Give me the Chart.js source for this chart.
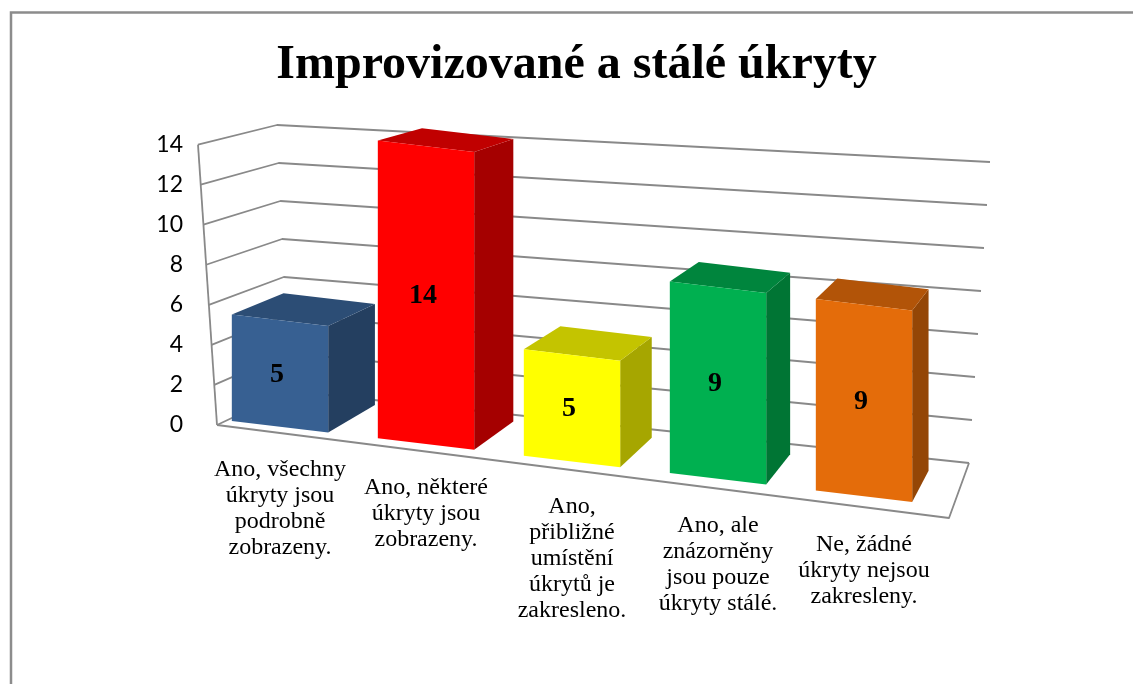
<!DOCTYPE html>
<html>
<head>
<meta charset="utf-8">
<script src="https://cdn.jsdelivr.net/npm/chart.js@4.4.1/dist/chart.umd.min.js"></script>
<style>
  html, body { margin: 0; padding: 0; background: #ffffff; overflow: hidden; }
  canvas { display: block; }
</style>
</head>
<body>
<canvas id="c" width="1133" height="684"></canvas>
<script>
// ---- data ----
const categories = [
  ['Ano, všechny', 'úkryty jsou', 'podrobně', 'zobrazeny.'],
  ['Ano, některé', 'úkryty jsou', 'zobrazeny.'],
  ['Ano,', 'přibližné', 'umístění', 'úkrytů je', 'zakresleno.'],
  ['Ano, ale', 'znázorněny', 'jsou pouze', 'úkryty stálé.'],
  ['Ne, žádné', 'úkryty nejsou', 'zakresleny.']
];
const values = [5, 14, 5, 9, 9];
const titleText = 'Improvizované a stálé úkryty';
const yMin = 0, yMax = 14, yStep = 2;

// ---- styles ----
const frontColors = ['#376092', '#FF0000', '#FFFF00', '#00B050', '#E46C0A'];
const topColors   = ['#2C4D75', '#C00000', '#C4C400', '#00853D', '#B25408'];
const sideColors  = ['#243F60', '#A50000', '#A6A600', '#007534', '#944606'];
const gridColor = '#898989';

// ---- 3D look geometry ----
const K = 0.119;          // floor slope of the front plane
const S = 1.062;          // vertical stretch of the front plane
const VP = {x: 1227, y: -96}; // vanishing point
const BAR_DEPTH = 0.052;
const wallFL0 = {x: 217, y: 425}, wallFL1 = {x: 198, y: 145};
const wallBL0 = {x: 289, y: 391}, wallBL1 = {x: 277, y: 125};
const wallBR0 = {x: 969, y: 463}, wallBR1 = {x: 990, y: 162};
const floorFR = {x: 949, y: 518};

function lerp(a, b, t) { return {x: a.x + (b.x - a.x) * t, y: a.y + (b.y - a.y) * t}; }

const persp = {
  id: 'persp',
  _F(chart) {
    const yb = chart.scales.y.getPixelForValue(0);
    return 461.4 - K * 572 - S * yb;
  },
  M(chart, x, y) {
    return {x: x, y: S * y + K * x + this._F(chart)};
  },
  back(p, c) { return {x: p.x + c * (VP.x - p.x), y: p.y + c * (VP.y - p.y)}; },
  beforeDraw(chart) {
    const ctx = chart.ctx;
    ctx.save();
    ctx.fillStyle = '#ffffff';
    ctx.fillRect(0, 0, chart.width, chart.height);
    ctx.strokeStyle = '#8c8c8c';
    ctx.lineWidth = 2.5;
    ctx.beginPath();
    ctx.moveTo(11, chart.height);
    ctx.lineTo(11, 12.5);
    ctx.lineTo(chart.width, 12.5);
    ctx.stroke();
    ctx.restore();
  },
  beforeDatasetsDraw(chart) {
    const ctx = chart.ctx;
    const ys = chart.scales.y;
    const p0 = ys.getPixelForValue(yMin), p1 = ys.getPixelForValue(yMax);
    ctx.save();
    ctx.strokeStyle = gridColor;
    ctx.lineWidth = 1.8;
    ctx.lineJoin = 'round';
    // floor
    const fl0 = {x: wallFL0.x, y: p0};
    ctx.beginPath();
    ctx.moveTo(fl0.x, fl0.y);
    ctx.lineTo(floorFR.x, floorFR.y);
    ctx.lineTo(wallBR0.x, wallBR0.y);
    ctx.stroke();
    // front-left edge
    ctx.beginPath();
    ctx.moveTo(wallFL0.x, p0);
    ctx.lineTo(wallFL1.x, p1);
    ctx.stroke();
    // gridlines on walls
    ys.ticks.forEach(tk => {
      const py = ys.getPixelForValue(tk.value);
      const t = (p0 - py) / (p0 - p1);
      const fl = {x: lerp(wallFL0, wallFL1, t).x, y: py};
      const bl = lerp(wallBL0, wallBL1, t);
      const br = lerp(wallBR0, wallBR1, t);
      ctx.beginPath();
      ctx.moveTo(fl.x, fl.y);
      ctx.lineTo(bl.x, bl.y);
      ctx.lineTo(br.x, br.y);
      ctx.stroke();
    });
    // side and top faces of bars
    const meta = chart.getDatasetMeta(0);
    meta.data.forEach((bar, i) => {
      const pr = bar.getProps(['x', 'y', 'base', 'width'], true);
      const L = pr.x - pr.width / 2, R = pr.x + pr.width / 2;
      const ftl = this.M(chart, L, pr.y), ftr = this.M(chart, R, pr.y), fbr = this.M(chart, R, pr.base);
      const btl = this.back(ftl, BAR_DEPTH), btr = this.back(ftr, BAR_DEPTH), bbr = this.back(fbr, BAR_DEPTH);
      ctx.fillStyle = sideColors[i];
      ctx.beginPath();
      ctx.moveTo(ftr.x, ftr.y); ctx.lineTo(btr.x, btr.y); ctx.lineTo(bbr.x, bbr.y); ctx.lineTo(fbr.x, fbr.y);
      ctx.closePath(); ctx.fill();
      ctx.fillStyle = topColors[i];
      ctx.beginPath();
      ctx.moveTo(ftl.x, ftl.y); ctx.lineTo(ftr.x, ftr.y); ctx.lineTo(btr.x, btr.y); ctx.lineTo(btl.x, btl.y);
      ctx.closePath(); ctx.fill();
    });
    ctx.restore();
    ctx.save();
    ctx.transform(1, K, 0, S, 0, this._F(chart));
  },
  afterDatasetsDraw(chart) {
    const ctx = chart.ctx;
    ctx.restore();
    ctx.save();
    const meta = chart.getDatasetMeta(0);
    ctx.fillStyle = '#000000';
    ctx.textAlign = 'center';
    ctx.textBaseline = 'middle';
    ctx.font = 'bold 28px "Liberation Serif"';
    meta.data.forEach((bar, i) => {
      const pr = bar.getProps(['x', 'y', 'base'], true);
      const c = this.M(chart, pr.x, (pr.y + pr.base) / 2);
      ctx.fillText(String(values[i]), c.x - 3, c.y + 1);
    });
    // category labels following the floor
    ctx.font = '24px "Liberation Serif"';
    const xs = chart.scales.x;
    chart.data.labels.forEach((lab, i) => {
      const x = xs.getPixelForValue(i);
      const y1 = 470 + 0.128 * (x - 284);
      lab.forEach((line, j) => ctx.fillText(line, x, y1 + j * 26));
    });
    ctx.restore();
  }
};

new Chart(document.getElementById('c'), {
  type: 'bar',
  data: {
    labels: categories,
    datasets: [{
      data: values,
      backgroundColor: frontColors,
      borderWidth: 0,
      barPercentage: 0.66,
      categoryPercentage: 1.0,
      clip: false
    }]
  },
  options: {
    responsive: false,
    animation: false,
    devicePixelRatio: 1,
    layout: { padding: { left: 20, right: 0, top: 0, bottom: 0 } },
    plugins: {
      legend: { display: false },
      tooltip: { enabled: false },
      title: {
        display: true,
        text: titleText,
        color: '#000000',
        font: { family: '"Liberation Serif"', size: 48, weight: 'bold' },
        padding: { top: 37, bottom: 50 }
      }
    },
    scales: {
      x: {
        grid: { display: false },
        border: { display: false },
        ticks: { display: false },
        afterFit: s => { s.height = 259; }
      },
      y: {
        min: yMin, max: yMax,
        grid: { display: false, drawTicks: false },
        border: { display: false },
        ticks: {
          stepSize: yStep,
          color: '#000000',
          padding: 24,
          font: { family: 'Lato', size: 23 }
        },
        afterFit: s => { s.width = 187; }
      },
      y2: {
        position: 'right',
        grid: { display: false },
        border: { display: false },
        ticks: { display: false },
        afterFit: s => { s.width = 196; }
      }
    }
  },
  plugins: [persp]
});
</script>
</body>
</html>
